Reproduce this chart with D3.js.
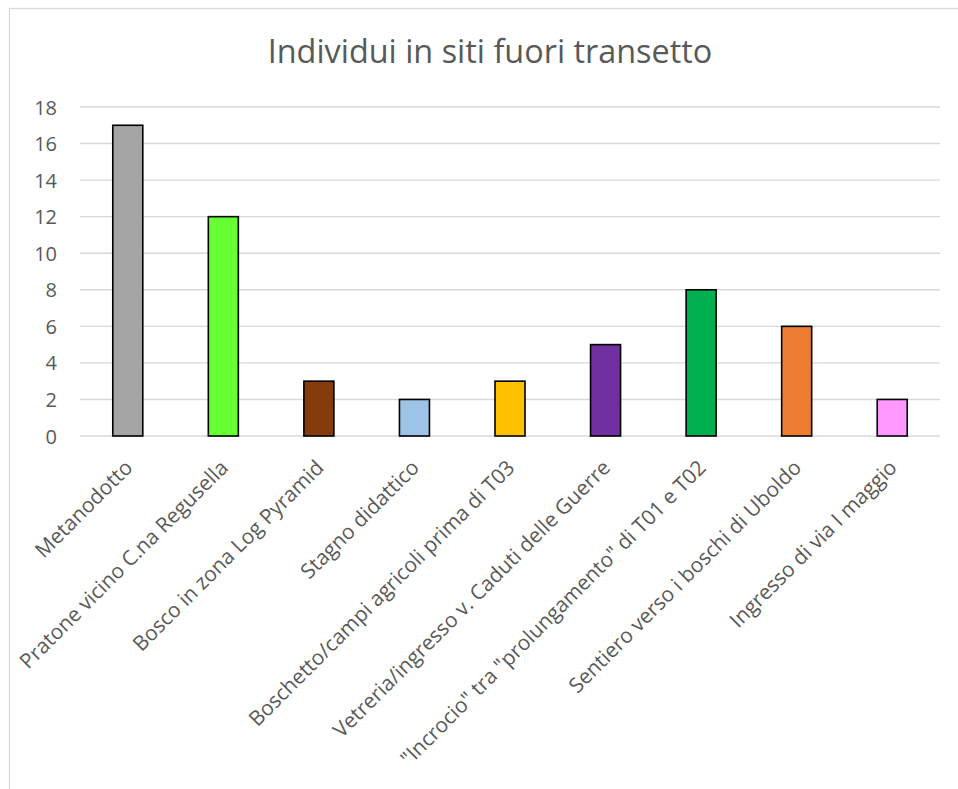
<!DOCTYPE html>
<html>
<head>
<meta charset="utf-8">
<script src="https://cdn.jsdelivr.net/npm/d3@7"></script>
<style>
  html, body { margin: 0; padding: 0; background: #fff; }
  svg { display: block; }
  text { font-family: "Open Sans", "Noto Sans", sans-serif; fill: #595959; }
</style>
</head>
<body>
<svg id="chart" width="958" height="789"></svg>
<script>
const title = "Individui in siti fuori transetto";
const categories = [
  "Metanodotto",
  "Pratone vicino C.na Regusella",
  "Bosco in zona Log Pyramid",
  "Stagno didattico",
  "Boschetto/campi agricoli prima di T03",
  "Vetreria/ingresso v. Caduti delle Guerre",
  "\"Incrocio\" tra \"prolungamento\" di T01 e T02",
  "Sentiero verso i boschi di Uboldo",
  "Ingresso di via I maggio"
];
const values = [17, 12, 3, 2, 3, 5, 8, 6, 2];
const colors = ["#A5A5A5", "#66FF33", "#843C0C", "#9DC3E6", "#FFC000", "#7030A0", "#00B050", "#ED7D31", "#FF99FF"];
const yTicks = [0, 2, 4, 6, 8, 10, 12, 14, 16, 18];

const svg = d3.select("#chart");

// outer chart border (extends past the picture on right and bottom)
svg.append("rect")
  .attr("x", 9.5).attr("y", 8.5)
  .attr("width", 1000).attr("height", 1000)
  .attr("fill", "none").attr("stroke", "#D9D9D9").attr("stroke-width", 1.3);

const x = d3.scaleBand().domain(categories).range([80, 940])
  .paddingInner(0.686).paddingOuter(0.343);
const y = d3.scaleLinear().domain([0, 18]).range([436, 107]);

// gridlines
svg.append("g").selectAll("line").data(yTicks).join("line")
  .attr("x1", 80).attr("x2", 940)
  .attr("y1", d => y(d)).attr("y2", d => y(d))
  .attr("stroke", "#D9D9D9").attr("stroke-width", 1.4);

// y axis labels
const yAxis = d3.axisLeft(y).tickValues(yTicks).tickSize(0).tickPadding(0);
const gy = svg.append("g").attr("transform", "translate(57,0)").call(yAxis);
gy.select(".domain").remove();
gy.selectAll("text")
  .attr("font-size", 20)
  .attr("dy", "0.35em")
  .style("font-family", "'Open Sans', sans-serif")
  .attr("fill", "#595959");

// bars
svg.append("g").selectAll("rect").data(values).join("rect")
  .attr("x", (d, i) => x(categories[i]))
  .attr("y", d => y(d))
  .attr("width", x.bandwidth())
  .attr("height", d => y(0) - y(d))
  .attr("fill", (d, i) => colors[i])
  .attr("stroke", "#000").attr("stroke-width", 1.6);

// x labels
svg.append("g").selectAll("text").data(categories).join("text")
  .attr("transform", d => `translate(${x(d) + x.bandwidth() / 2 + 6},469) rotate(-45)`)
  .attr("text-anchor", "end")
  .attr("font-size", 20.8)
  .text(d => d);

// title
svg.append("text")
  .attr("x", 490).attr("y", 63)
  .attr("text-anchor", "middle")
  .attr("font-size", 32.4)
  .text(title);
</script>
</body>
</html>
